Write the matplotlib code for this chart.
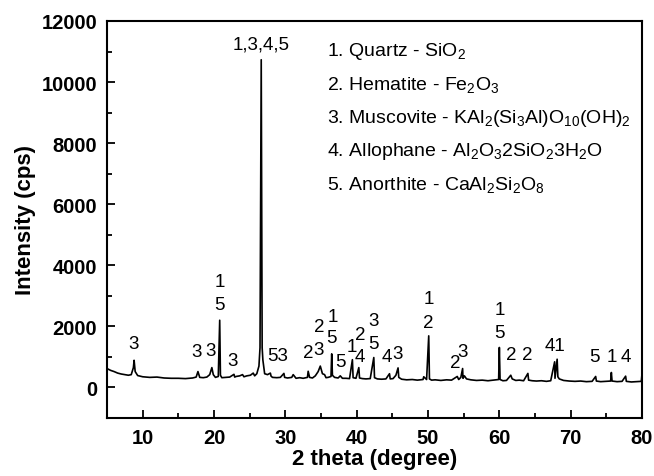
import numpy as np
import matplotlib
matplotlib.use("Agg")
from matplotlib import pyplot as plt
from matplotlib.ticker import MultipleLocator

plt.rcParams["font.family"] = ["Liberation Sans", "DejaVu Sans"]
plt.rcParams["mathtext.default"] = "regular"

# XRD trace: (2 theta, intensity)
trace = [
    (5.0, 620), (5.5, 560), (6.0, 520), (6.5, 470), (7.0, 440), (7.5, 420), (8.0, 400),
    (8.4, 420), (8.7, 650), (8.8, 890), (8.95, 520), (9.3, 390), (10.0, 350), (11.0, 330),
    (12.0, 340), (13.0, 310), (14.0, 300), (15.0, 300), (16.0, 290), (17.0, 310),
    (17.5, 340), (17.75, 520), (18.0, 330), (18.5, 320), (19.0, 340), (19.4, 420),
    (19.7, 650), (19.9, 420), (20.2, 330), (20.6, 360), (20.8, 2200), (20.9, 400),
    (21.1, 320), (21.6, 330), (22.2, 340), (22.8, 430), (22.9, 340), (23.1, 360),
    (23.6, 380), (24.0, 420), (24.2, 350), (24.6, 380), (25.1, 400), (25.5, 470),
    (25.7, 380), (26.0, 450), (26.3, 700), (26.45, 1300), (26.62, 10730), (26.75, 1300),
    (26.85, 900), (27.1, 450), (27.5, 420), (27.9, 470), (28.0, 370), (28.2, 330),
    (28.8, 320), (29.3, 330), (29.8, 460), (29.9, 330), (30.3, 310), (30.9, 330),
    (31.1, 420), (31.5, 300), (32.0, 320), (32.5, 300), (33.1, 330), (33.2, 530),
    (33.4, 330), (33.8, 310), (34.2, 380), (34.6, 520), (34.9, 700), (35.2, 450),
    (35.5, 420), (35.7, 320), (36.0, 330), (36.4, 360), (36.5, 1100), (36.6, 400),
    (36.9, 330), (37.4, 310), (37.7, 380), (38.0, 300), (38.5, 300), (39.0, 290),
    (39.4, 910), (39.5, 320), (39.9, 300), (40.3, 650), (40.4, 310), (40.8, 290),
    (41.3, 280), (41.9, 290), (42.4, 980), (42.5, 320), (42.9, 280), (43.5, 270),
    (44.1, 280), (44.6, 450), (44.7, 280), (45.1, 290), (45.5, 400), (45.8, 640),
    (45.9, 330), (46.3, 270), (47.0, 250), (47.8, 260), (48.5, 240), (49.3, 260),
    (49.4, 350), (49.8, 260), (50.1, 1690), (50.2, 280), (50.5, 240), (51.0, 250),
    (51.8, 230), (52.6, 250), (53.3, 240), (54.1, 360), (54.3, 260), (54.6, 330),
    (54.85, 620), (54.9, 300), (55.1, 380), (55.4, 280), (56.0, 250), (56.8, 230),
    (57.6, 240), (58.4, 220), (59.2, 240), (59.9, 260), (60.0, 1310), (60.1, 260),
    (60.5, 220), (61.0, 230), (61.6, 400), (61.8, 280), (62.3, 230), (62.8, 240),
    (63.4, 220), (64.0, 460), (64.1, 240), (64.6, 220), (65.2, 210), (65.9, 220),
    (66.6, 200), (67.2, 220), (67.75, 840), (67.8, 300), (67.9, 500), (68.1, 925),
    (68.2, 350), (68.4, 280), (69.0, 230), (69.8, 210), (70.6, 200), (71.4, 210),
    (72.2, 190), (73.0, 200), (73.5, 360), (73.6, 210), (74.2, 190), (74.9, 200),
    (75.6, 210), (75.7, 490), (75.8, 210), (76.5, 190), (77.2, 200), (77.7, 370),
    (77.8, 200), (78.5, 180), (79.2, 190), (79.9, 200), (80.0, 460),
]
two_theta = np.array([p[0] for p in trace])
intensity = np.array([p[1] for p in trace])

# phase markers above the peaks: (2 theta, intensity, text)
peak_labels = [
    (8.75, 1440, "3"), (17.5, 1170, "3"), (19.55, 1220, "3"),
    (20.75, 3460, "1"), (20.75, 2710, "5"), (22.65, 890, "3"),
    (26.55, 11240, "1,3,4,5"), (28.95, 1060, "53"), (33.15, 1140, "2"),
    (34.7, 1250, "3"), (34.8, 1990, "2"), (36.6, 2320, "1"), (36.5, 1630, "5"),
    (37.7, 860, "5"), (39.35, 1330, "1"), (40.5, 1730, "2"), (40.5, 1000, "4"),
    (42.3, 2200, "3"), (42.3, 1440, "5"), (44.2, 1000, "4"), (45.7, 1110, "3"),
    (50.1, 2910, "1"), (50.1, 2120, "2"), (53.75, 820, "2"), (54.9, 1170, "3"),
    (60.0, 2560, "1"), (60.0, 1790, "5"), (61.7, 1080, "2"), (63.95, 1080, "2"),
    (67.8, 1360, "41"), (73.4, 1000, "5"), (75.7, 1000, "1"), (77.7, 1000, "4"),
]

phases = [
    "1. Quartz - SiO$_2$",
    "2. Hematite - Fe$_2$O$_3$",
    "3. Muscovite - KAl$_2$(Si$_3$Al)O$_{10}$(OH)$_2$",
    "4. Allophane - Al$_2$O$_3$2SiO$_2$3H$_2$O",
    "5. Anorthite - CaAl$_2$Si$_2$O$_8$",
]

fig = plt.figure(figsize=(6.54, 4.77), dpi=100)
ax = fig.add_axes([0.1636, 0.1216, 0.8181, 0.8323])
ax.plot(two_theta, intensity, color="black", lw=1.2)

for x, y, s in peak_labels:
    ax.text(x, y, s, ha="center", va="center", fontsize=13.5)

for i, s in enumerate(phases):
    fig.text(327 / 654, 1 - (52 + 33.3 * i) / 477, s, ha="left", va="center", fontsize=14)

ax.set_xlim(5, 80)
ax.set_ylim(-1000, 12000)
ax.xaxis.set_major_locator(MultipleLocator(10))
ax.xaxis.set_minor_locator(MultipleLocator(5))
ax.yaxis.set_major_locator(MultipleLocator(2000))
ax.yaxis.set_minor_locator(MultipleLocator(1000))
ax.tick_params(which="both", direction="in", top=False, right=False, width=1.3)
ax.tick_params(which="major", length=6, labelsize=14.5, pad=7)
ax.tick_params(which="minor", length=3.5)
for lab in ax.get_xticklabels() + ax.get_yticklabels():
    lab.set_fontweight("bold")
for sp in ax.spines.values():
    sp.set_linewidth(1.5)

ax.set_xlabel("2 theta (degree)", fontsize=16, fontweight="bold", labelpad=1)
ax.set_ylabel("Intensity (cps)", fontsize=16, fontweight="bold", labelpad=4)

fig.savefig("out.png", dpi=100)
